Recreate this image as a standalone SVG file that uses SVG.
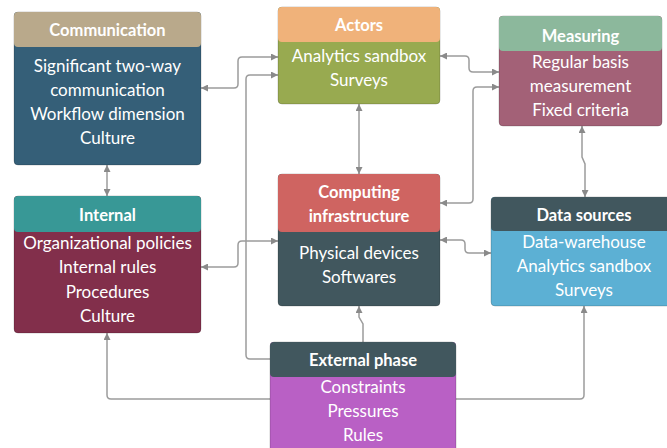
<svg xmlns="http://www.w3.org/2000/svg" width="667" height="448" viewBox="0 0 667 448">
  <defs>
    <marker id="arrow" viewBox="0 0 8 8" refX="8" refY="4" markerWidth="7" markerHeight="7" markerUnits="userSpaceOnUse" orient="auto-start-reverse">
      <path d="M0,0 L8,4 L0,8 z" fill="#8a8a8a"/>
    </marker>
    <style>
      .edge { fill: none; stroke: #9c9c9c; stroke-width: 1.5; }
      .two { marker-start: url(#arrow); marker-end: url(#arrow); }
      .one { marker-end: url(#arrow); }
      .box { stroke: rgba(0,0,0,0.18); stroke-width: 1; }
      .hd { font-family: Lato, "Liberation Sans", sans-serif; font-size: 16.5px; font-weight: 700; fill: #ffffff; text-anchor: middle; }
      .bd { font-family: Lato, "Liberation Sans", sans-serif; font-size: 17px; fill: #ffffff; text-anchor: middle; }
    </style>
  </defs>
  <rect width="667" height="448" fill="#ffffff"/>

  <g id="connectors">
    <path class="edge two" d="M201,88 H234 Q238,88 238,84 V61 Q238,57 242,57 H278"/>
    <path class="edge one" d="M270,359 H250 Q246,359 246,355 V79 Q246,75 250,75 H278"/>
    <path class="edge two" d="M201,267 H234 Q238,267 238,263 V245 Q238,241 242,241 H278"/>
    <path class="edge two" d="M107,165 V196"/>
    <path class="edge two" d="M359,104 V174"/>
    <path class="edge two" d="M440,56 H465 Q469,56 469,60 V68 Q469,72 473,72 H499"/>
    <path class="edge two" d="M440,203 H469 Q473,203 473,199 V91 Q473,87 477,87 H499"/>
    <path class="edge two" d="M582,126 V157 L585,164 V197"/>
    <path class="edge two" d="M440,240 H461 Q465,240 465,244 V249 Q465,253 469,253 H491"/>
    <path class="edge one" d="M363,342 V324 L359,317 V306"/>
    <path class="edge one" d="M270,399 H111 Q107,399 107,395 V333"/>
    <path class="edge one" d="M456,399 H580 Q584,399 584,395 V306"/>
  </g>

  <g id="communication">
    <rect class="box" x="14" y="12" width="187" height="153" rx="4" fill="#355f78"/>
    <rect x="14" y="12" width="187" height="35" rx="4" fill="#b9a98b"/>
    <text class="hd" x="107.5" y="36">Communication</text>
    <text class="bd" x="107.5" y="72">Significant two-way</text>
    <text class="bd" x="107.5" y="96">communication</text>
    <text class="bd" x="107.5" y="120">Workflow dimension</text>
    <text class="bd" x="107.5" y="144">Culture</text>
  </g>

  <g id="actors">
    <rect class="box" x="278" y="7" width="162" height="97" rx="4" fill="#98aa50"/>
    <rect x="278" y="7" width="162" height="35" rx="4" fill="#f0b27a"/>
    <text class="hd" x="359" y="31">Actors</text>
    <text class="bd" x="359" y="62">Analytics sandbox</text>
    <text class="bd" x="359" y="86">Surveys</text>
  </g>

  <g id="measuring">
    <rect class="box" x="499" y="16" width="163" height="110" rx="4" fill="#a36177"/>
    <rect x="499" y="16" width="163" height="35" rx="4" fill="#8cb89c"/>
    <text class="hd" x="580.5" y="42">Measuring</text>
    <text class="bd" x="580.5" y="68">Regular basis</text>
    <text class="bd" x="580.5" y="92">measurement</text>
    <text class="bd" x="580.5" y="116">Fixed criteria</text>
  </g>

  <g id="internal">
    <rect class="box" x="14" y="196" width="187" height="137" rx="4" fill="#822f4b"/>
    <rect x="14" y="196" width="187" height="36" rx="4" fill="#389896"/>
    <text class="hd" x="107.5" y="221">Internal</text>
    <text class="bd" x="107.5" y="249">Organizational policies</text>
    <text class="bd" x="107.5" y="273">Internal rules</text>
    <text class="bd" x="107.5" y="298">Procedures</text>
    <text class="bd" x="107.5" y="322">Culture</text>
  </g>

  <g id="computing">
    <rect class="box" x="278" y="174" width="162" height="132" rx="4" fill="#41575e"/>
    <rect x="278" y="174" width="162" height="58" rx="4" fill="#cf6461"/>
    <text class="hd" x="359" y="198">Computing</text>
    <text class="hd" x="359" y="222">infrastructure</text>
    <text class="bd" x="359" y="259">Physical devices</text>
    <text class="bd" x="359" y="283">Softwares</text>
  </g>

  <g id="datasources">
    <rect class="box" x="491" y="197" width="186" height="109" rx="4" fill="#5cb0d4"/>
    <rect x="491" y="197" width="186" height="34" rx="4" fill="#41575e"/>
    <text class="hd" x="584" y="221">Data sources</text>
    <text class="bd" x="584" y="248">Data-warehouse</text>
    <text class="bd" x="584" y="272">Analytics sandbox</text>
    <text class="bd" x="584" y="296">Surveys</text>
  </g>

  <g id="external">
    <rect class="box" x="270" y="342" width="186" height="120" rx="4" fill="#b960c5"/>
    <rect x="270" y="342" width="186" height="35" rx="4" fill="#41575e"/>
    <text class="hd" x="363" y="366">External phase</text>
    <text class="bd" x="363" y="393">Constraints</text>
    <text class="bd" x="363" y="417">Pressures</text>
    <text class="bd" x="363" y="441">Rules</text>
  </g>
</svg>
